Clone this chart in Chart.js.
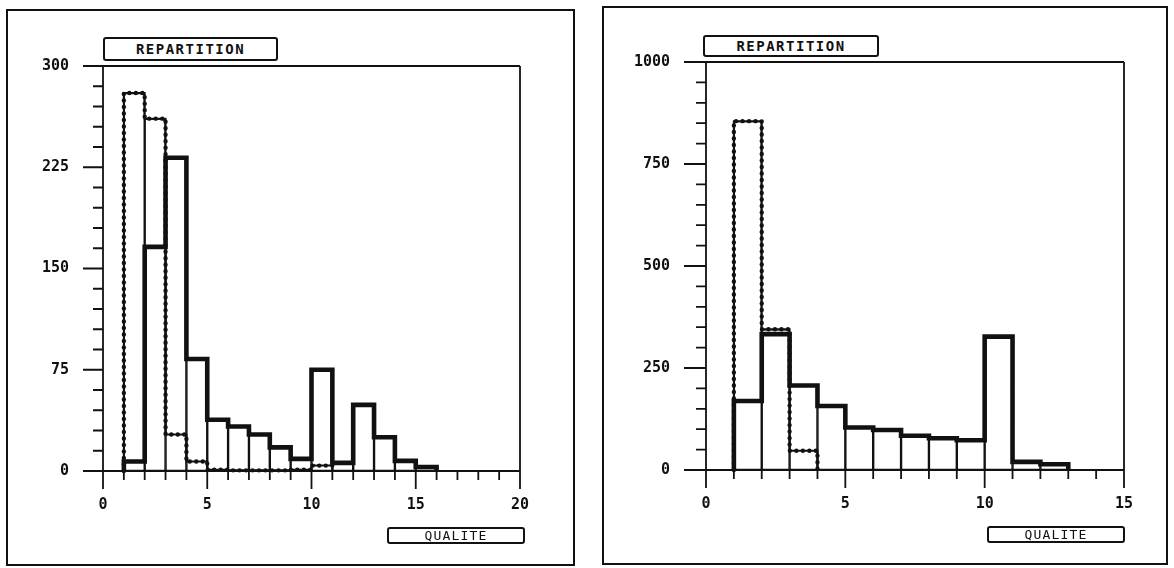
<!DOCTYPE html>
<html><head><meta charset="utf-8">
<script src="https://cdn.jsdelivr.net/npm/chart.js@4.4.1/dist/chart.umd.min.js"></script>
<style>
html,body{margin:0;padding:0;background:#fff;width:1174px;height:568px;overflow:hidden}
body{position:relative}
.frame{position:absolute;border:2px solid #111;box-sizing:border-box}
canvas{position:absolute;top:0}
.box{position:absolute;border:2px solid #111;border-radius:3px;box-sizing:border-box;font-family:"DejaVu Sans Mono",monospace;color:#111;text-align:center;background:#fff;z-index:2;white-space:nowrap}
.rep{font-size:14px;font-weight:bold;letter-spacing:1.5px}
.qual{font-size:13px;letter-spacing:1.2px;line-height:13px}
</style></head><body>
<div class="frame" style="left:6px;top:9px;width:569px;height:557px"></div>
<div class="frame" style="left:602px;top:6px;width:566px;height:559px"></div>
<canvas id="c1" width="587" height="568" style="left:0;width:587px;height:568px"></canvas>
<canvas id="c2" width="587" height="568" style="left:587px;width:587px;height:568px"></canvas>
<div class="box rep" style="left:103px;top:37px;width:175px;height:24px;line-height:20px">REPARTITION</div>
<div class="box rep" style="left:703px;top:35px;width:176px;height:22px;line-height:18px">REPARTITION</div>
<div class="box qual" style="left:387px;top:527px;width:138px;height:17px">QUALITE</div>
<div class="box qual" style="left:987px;top:526px;width:138px;height:17px">QUALITE</div>
<script>
// ---- data ----
const yTitle = 'REPARTITION';
const xTitle = 'QUALITE';

// left panel: bins of width 1, lower edges
const leftBins    = [1, 2, 3, 4, 5, 6, 7, 8, 9, 10, 11, 12, 13, 14, 15];
const leftSeriesA = [280, 261, 27, 7, 1, 0.5, 0.5, 0.5, 1, 4];             // dotted
const leftSeriesB = [7, 166, 232, 83, 38, 33, 27, 17.5, 9, 75, 6, 49, 25, 7.5, 3]; // thick
const leftYLabels = [0, 75, 150, 225, 300];
const leftXLabels = [0, 5, 10, 15, 20];

// right panel
const rightBins    = [1, 2, 3, 4, 5, 6, 7, 8, 9, 10, 11, 12];
const rightSeriesA = [855, 345, 47];
const rightSeriesB = [169, 333, 207, 157, 104, 98, 84, 78, 73, 327, 20, 14];
const rightYLabels = [0, 250, 500, 750, 1000];
const rightXLabels = [0, 5, 10, 15];

// ---- helpers building library data from the arrays ----
function stepPoints(bins, vals) {
  const pts = [{x: bins[0], y: 0}];
  vals.forEach((v, i) => pts.push({x: bins[i], y: v}));
  pts.push({x: bins[vals.length - 1] + 1, y: 0});
  return pts;
}
function envelope(bins, a, b) {
  return bins.map((s, i) => ({x: s + 0.5, y: Math.max(a[i] || 0, b[i] || 0)}));
}

const INK = '#111';
const plotterAxes = {
  id: 'plotterAxes',
  afterDraw(chart, args, o) {
    const {ctx} = chart; const x = chart.scales.x, y = chart.scales.y;
    const x0 = x.getPixelForValue(x.min), x1 = x.getPixelForValue(x.max);
    const y0 = y.getPixelForValue(y.min), y1 = y.getPixelForValue(y.max);
    ctx.save();
    ctx.strokeStyle = INK; ctx.lineWidth = 1.8; ctx.lineCap = 'butt';
    ctx.beginPath();
    ctx.moveTo(x0, y1); ctx.lineTo(x0, y0 + o.xMajor);
    ctx.moveTo(x0 - o.yMajor, y0); ctx.lineTo(x1, y0);
    ctx.moveTo(x0 - o.yMajor, y1); ctx.lineTo(x1, y1);
    ctx.moveTo(x1, y1); ctx.lineTo(x1, y0 + o.xMajor);
    y.ticks.forEach(t => {
      const p = y.getPixelForValue(t.value);
      const L = o.yLabels.includes(t.value) ? o.yMajor : o.yMinor;
      ctx.moveTo(x0 - L, p); ctx.lineTo(x0, p);
    });
    x.ticks.forEach(t => {
      const p = x.getPixelForValue(t.value);
      const L = o.xLabels.includes(t.value) ? o.xMajor : o.xMinor;
      ctx.moveTo(p, y0); ctx.lineTo(p, y0 + L);
    });
    ctx.stroke();
    ctx.restore();
  }
};

function makeChart(id, cfg) {
  const font = {family: 'DejaVu Sans Mono', size: 15, weight: 'bold'};
  return new Chart(document.getElementById(id), {
    type: 'line',
    data: {
      datasets: [
        {type: 'line', data: stepPoints(cfg.bins, cfg.b), stepped: 'before', borderColor: INK,
         borderWidth: 4.6, borderJoinStyle: 'miter', pointRadius: 0, fill: false, clip: 10, order: 0},
        {type: 'line', data: stepPoints(cfg.bins, cfg.a), stepped: 'before', borderColor: INK,
         borderWidth: 4.4, borderDash: [0, 6.5], borderCapStyle: 'round', pointRadius: 0, fill: false, clip: 10, order: 1},
        {type: 'line', data: stepPoints(cfg.bins, cfg.a), stepped: 'before', borderColor: INK,
         borderWidth: 2, pointRadius: 0, fill: false, clip: 10, order: 2},
        {type: 'bar', data: envelope(cfg.bins, cfg.a, cfg.b), backgroundColor: 'rgba(255,255,255,0)',
         borderColor: INK, borderWidth: 0.85, borderSkipped: false, barPercentage: 1, categoryPercentage: 1, order: 3}
      ]
    },
    options: {
      responsive: false, animation: false, devicePixelRatio: 1,
      layout: {padding: {left: 0, top: cfg.top, right: cfg.right, bottom: 0}},
      plugins: {legend: {display: false}, tooltip: {enabled: false},
        plotterAxes: {xLabels: cfg.xLabels, yLabels: cfg.yLabels, xMajor: 18, xMinor: 9, yMajor: cfg.yMajor, yMinor: 10}},
      scales: {
        x: {type: 'linear', min: 0, max: cfg.xMax, offset: false,
            grid: {display: false, drawTicks: false, offset: false}, border: {display: false},
            ticks: {stepSize: 1, autoSkip: false, maxRotation: 0, minRotation: 0, padding: 25, color: INK, font,
                    callback: v => cfg.xLabels.includes(v) ? String(v) : ''},
            afterFit: s => { s.height = cfg.xH; }},
        y: {type: 'linear', min: 0, max: cfg.yMax,
            grid: {display: false, drawTicks: false}, border: {display: false},
            ticks: {stepSize: cfg.yStep, autoSkip: false, padding: cfg.yPad, color: INK, font,
                    callback: v => cfg.yLabels.includes(v) ? String(v) : ''},
            afterFit: s => { s.width = cfg.yW; }}
      }
    },
    plugins: [plotterAxes]
  });
}

makeChart('c1', {bins: leftBins, a: leftSeriesA, b: leftSeriesB, xLabels: leftXLabels, yLabels: leftYLabels,
  xMax: 20, yMax: 300, yStep: 15, top: 66, right: 67, xH: 97, yW: 103, yPad: 34, yMajor: 20});
makeChart('c2', {bins: rightBins, a: rightSeriesA, b: rightSeriesB, xLabels: rightXLabels, yLabels: rightYLabels,
  xMax: 15, yMax: 1000, yStep: 50, top: 62, right: 50, xH: 98, yW: 119, yPad: 36, yMajor: 22});
</script>
</body></html>
